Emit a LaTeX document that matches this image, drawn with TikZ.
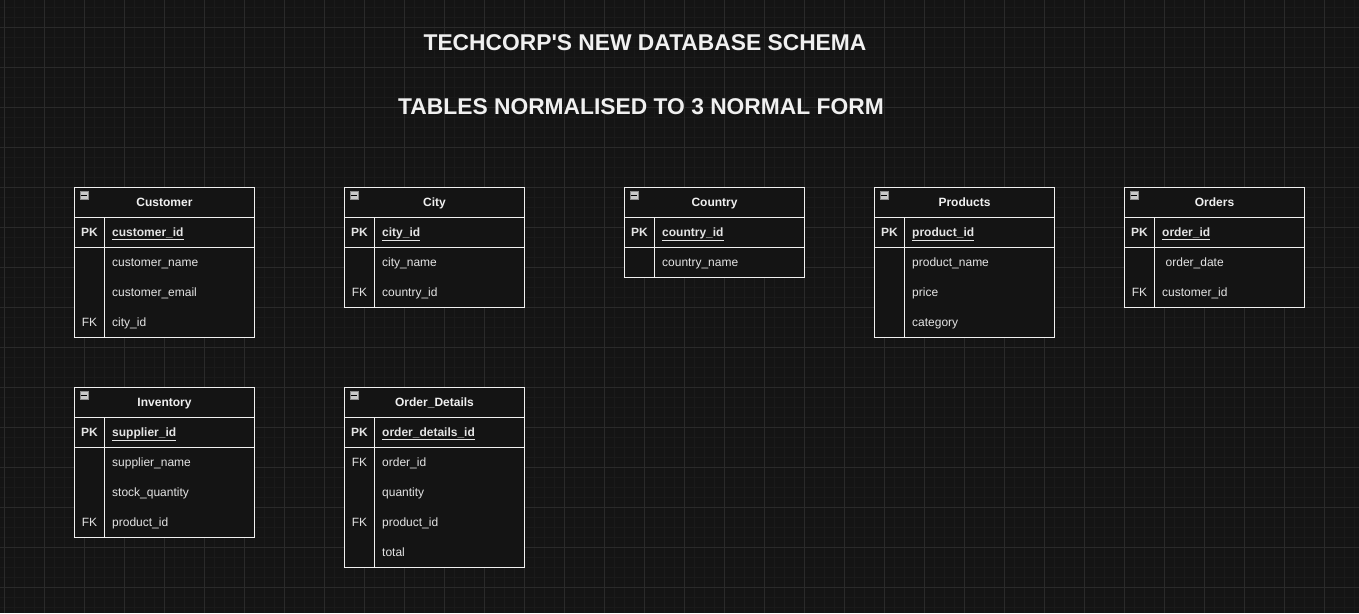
\documentclass[tikz,border=0pt]{standalone}
\usepackage{fontspec}
\setmainfont{Liberation Sans}
\definecolor{bg}{HTML}{141414}
\definecolor{gmin}{HTML}{1A1A1A}
\definecolor{gmaj}{HTML}{2A2A2A}
\definecolor{ink}{HTML}{F0F0F0}
\definecolor{fldink}{HTML}{E4E4E4}
\definecolor{tfill}{HTML}{141414}
\definecolor{iconfill}{HTML}{C8C8C8}
\definecolor{iconedge}{HTML}{8A8A8A}
\tikzset{
  tbl/.style={draw=ink, line width=1pt, fill=tfill, minimum width=180pt, inner sep=0pt, outer sep=0pt, anchor=north west},
  tline/.style={draw=ink, line width=1pt},
  ttl/.style={text=ink, font=\bfseries\fontsize{12}{14}\selectfont, anchor=base, inner sep=0pt},
  key/.style={text=fldink, font=\bfseries\fontsize{12}{14}\selectfont, anchor=base, inner sep=0pt},
  fkey/.style={text=fldink, font=\fontsize{12}{14}\selectfont, anchor=base, inner sep=0pt},
  fld/.style={text=fldink, font=\fontsize{12}{14}\selectfont, anchor=base west, inner sep=0pt},
  pkfld/.style={text=fldink, font=\bfseries\fontsize{12}{14}\selectfont, anchor=base west, inner sep=0pt},
  icon/.style={draw=iconedge, fill=iconfill, minimum size=8pt, inner sep=0pt, outer sep=0pt, line width=0.7pt,
    path picture={\draw[black, line width=1.1pt] ([xshift=-2.6pt]path picture bounding box.center) -- ([xshift=2.6pt]path picture bounding box.center);}},
  heading/.style={text=ink, font=\bfseries\fontsize{22.8}{26}\selectfont, anchor=base, inner sep=0pt},
  gridmin/.style={draw=gmin, line width=0.8pt},
  gridmaj/.style={draw=gmaj, line width=1pt}
}
% #1 id, #2 x, #3 y, #4 title, #5 height, #6 pk field, #7 rows key/field
\newcommand\erTable[7]{%
  \node[tbl, minimum height=#5pt] (#1) at (#2,#3) {};
  \draw[tline] ([yshift=-30pt]#1.north west) -- ([yshift=-30pt]#1.north east);
  \draw[tline] ([yshift=-60pt]#1.north west) -- ([yshift=-60pt]#1.north east);
  \draw[tline] ([xshift=30pt,yshift=-30pt]#1.north west) -- ([xshift=30pt]#1.south west);
  \node[icon] (#1-icon) at ([xshift=9.5pt,yshift=-8pt]#1.north west) {};
  \node[ttl] (#1-title) at ([xshift=90pt,yshift=-19pt]#1.north west) {#4};
  \node[key] (#1-pk) at ([xshift=15pt,yshift=-49pt]#1.north west) {PK};
  \node[pkfld] (#1-pkf) at ([xshift=37.5pt,yshift=-49pt]#1.north west) {\underline{#6}};
  \foreach \k/\f [count=\i] in {#7} {
    \node[fkey] (#1-k\i) at ([xshift=15pt,yshift={-49pt-30pt*\i}]#1.north west) {\k};
    \node[fld] (#1-f\i) at ([xshift=37.5pt,yshift={-49pt-30pt*\i}]#1.north west) {\f};
  }
}
\begin{document}
\begin{tikzpicture}[x=1pt,y=-1pt]
\useasboundingbox (0,0) rectangle (1359,613);
\fill[bg] (0,0) rectangle (1359,613);
\foreach \gx in {4.5,14.5,...,1359} \draw[gridmin] (\gx,0) -- (\gx,613);
\foreach \gy in {7.5,17.5,...,613} \draw[gridmin] (0,\gy) -- (1359,\gy);
\foreach \gx in {4.5,44.5,...,1359} \draw[gridmaj] (\gx,0) -- (\gx,613);
\foreach \gy in {27.5,67.5,...,613} \draw[gridmaj] (0,\gy) -- (1359,\gy);

\node[heading] (title1) at (645,50) {TECHCORP\textquotesingle S NEW DATABASE SCHEMA};
\node[heading] (title2) at (641,114.5) {TABLES NORMALISED TO 3 NORMAL FORM};

\erTable{customer}{74.5}{187.5}{Customer}{150}{customer\_id}{/customer\_name, /customer\_email, FK/city\_id}
\erTable{city}{344.5}{187.5}{City}{120}{city\_id}{/city\_name, FK/country\_id}
\erTable{country}{624.5}{187.5}{Country}{90}{country\_id}{/country\_name}
\erTable{products}{874.5}{187.5}{Products}{150}{product\_id}{/product\_name, /price, /category}
\erTable{orders}{1124.5}{187.5}{Orders}{120}{order\_id}{/\hspace{3.5pt}order\_date, FK/customer\_id}
\erTable{inventory}{74.5}{387.5}{Inventory}{150}{supplier\_id}{/supplier\_name, /stock\_quantity, FK/product\_id}
\erTable{orderdetails}{344.5}{387.5}{Order\_Details}{180}{order\_details\_id}{FK/order\_id, /quantity, FK/product\_id, /total}
\end{tikzpicture}
\end{document}
